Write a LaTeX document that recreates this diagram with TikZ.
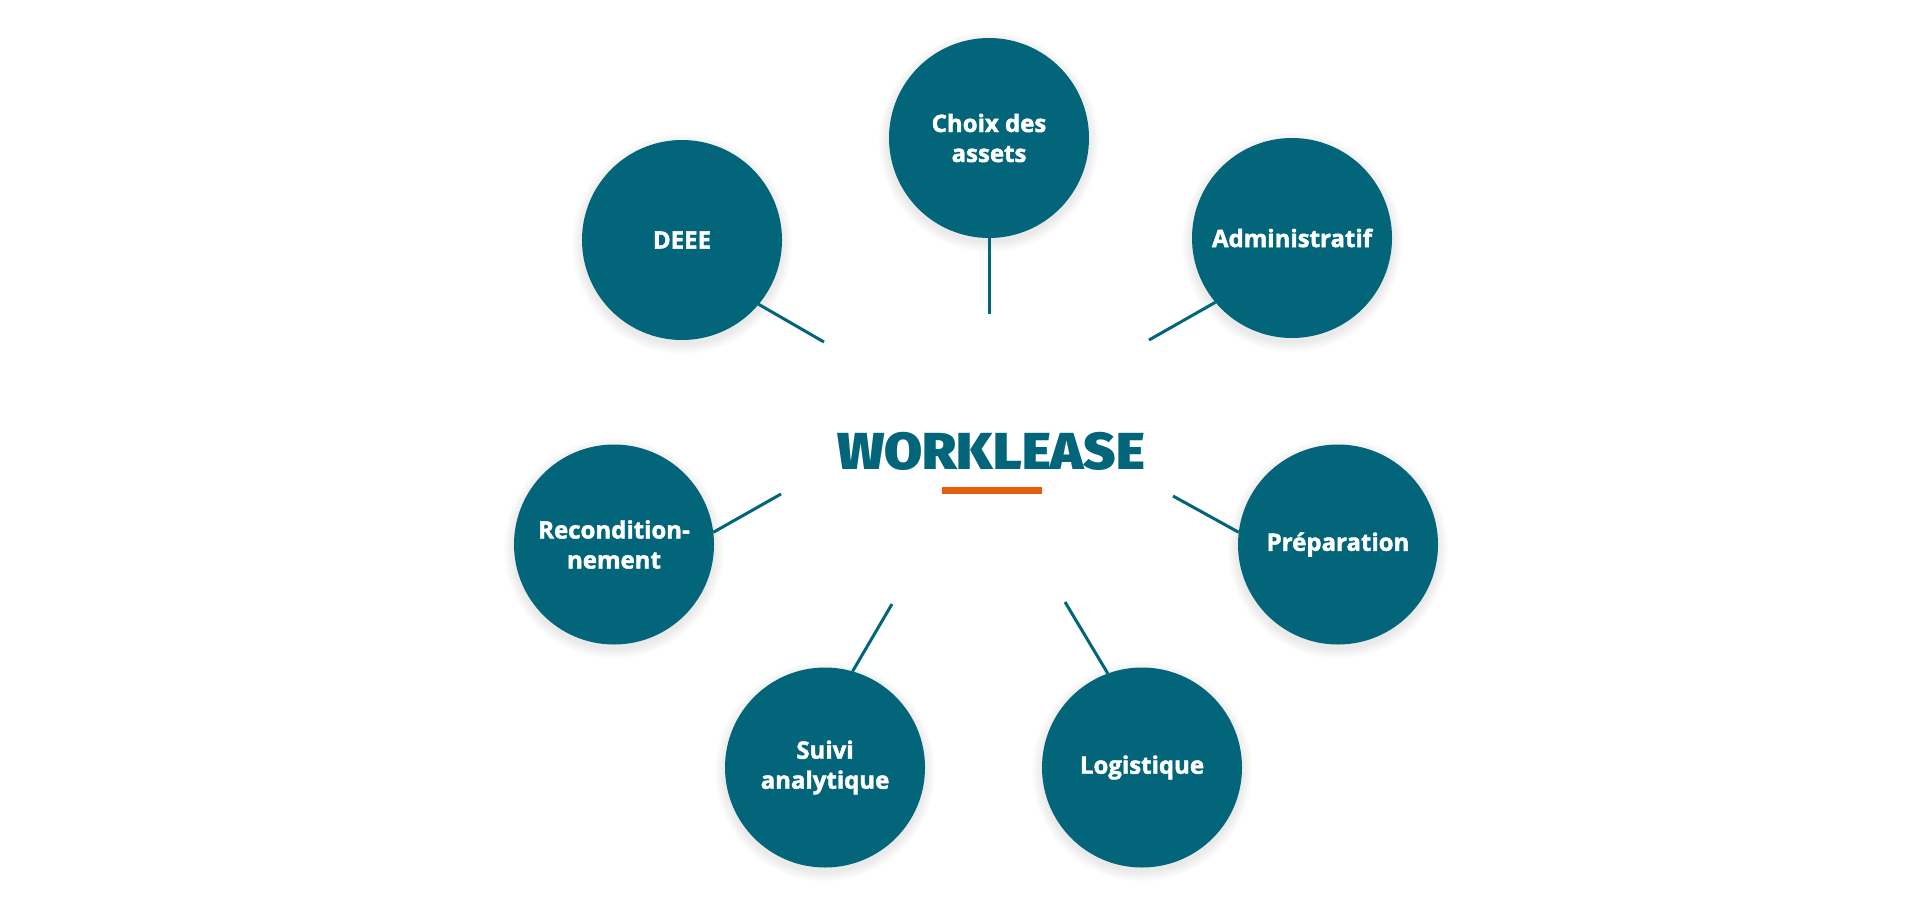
\documentclass[tikz,border=0pt]{standalone}
\usepackage{fontspec}
\setmainfont{Open Sans}
\newfontfamily\heavyfont{Fira Sans}[UprightFont={* Black}]
\newfontfamily\circfont{Open Sans}[UprightFont={* Bold}, FakeBold=1.8]
\definecolor{teal}{RGB}{2,101,122}
\definecolor{accent}{RGB}{232,93,12}
\begin{document}
\begin{tikzpicture}[x=0.5pt,y=-0.5pt,
  bubble/.style={circle, fill=teal, minimum size=100pt, inner sep=0pt, outer sep=0pt,
    text=white, font=\circfont\fontsize{12}{15}\selectfont, align=center},
  halo/.style={fill=black, opacity=0.012},
  link/.style={draw=teal, line width=1.5pt}]
\fill[white] (0,0) rectangle (1920,900);
\useasboundingbox (0,0) rectangle (1920,900);

\foreach \p in {(989,138),(682,240),(1292,238),(614,544.5),(1338,544.5),(825,767.5),(1142,767.5)}{
  \foreach \r in {101,102.5,...,110}{
    \fill[halo] \p ++(0,4) circle[radius=\r];
  }
}

\node[bubble] (choix) at (989,138) {Choix des\\assets};
\node[bubble] (deee) at (682,240) {DEEE};
\node[bubble] (admin) at (1292,238) {Administratif};
\node[bubble] (recond) at (614,544.5) {Recondition-\\nement};
\node[bubble] (prep) at (1338,544.5) {Préparation};
\node[bubble] (suivi) at (825,767.5) {Suivi\\analytique};
\node[bubble] (logi) at (1142,767.5) {Logistique};

\node[anchor=base, inner sep=0pt, text=teal, font=\heavyfont\fontsize{26}{26}\selectfont] (title) at (991,469) {\scalebox{1.06}[1]{WORKLEASE}};
\fill[accent] (942,487) rectangle (1042,494);

\coordinate (cchoix) at (989,314);
\coordinate (cdeee) at (824,342);
\coordinate (cadmin) at (1149,340);
\coordinate (crecond) at (781,494);
\coordinate (cprep) at (1173,496);
\coordinate (csuivi) at (892,604);
\coordinate (clogi) at (1065,602);

\draw[link] (choix.south) -- (cchoix);
\draw[link] (deee.-40) -- (cdeee);
\draw[link] (admin.220) -- (cadmin);
\draw[link] (recond.7) -- (crecond);
\draw[link] (prep.173) -- (cprep);
\draw[link] (suivi.74) -- (csuivi);
\draw[link] (logi.110) -- (clogi);
\end{tikzpicture}
\end{document}
